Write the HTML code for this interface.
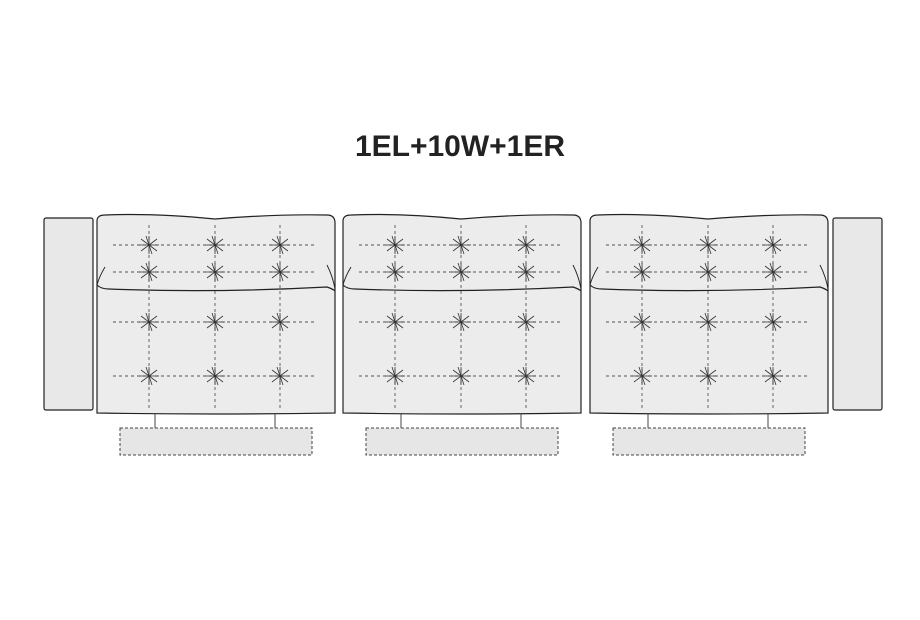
<!DOCTYPE html>
<html><head><style>body{margin:0;background:#fff}svg{display:block}</style></head><body>
<svg width="920" height="620" viewBox="0 0 920 620" xmlns="http://www.w3.org/2000/svg">
<defs>
<g id="t" stroke="#333" stroke-width="0.8" fill="none">
<line x1="-8" y1="-6" x2="8" y2="6"/><line x1="-8" y1="6" x2="8" y2="-6"/><line x1="-3" y1="-9" x2="3" y2="9"/><line x1="-10" y1="0" x2="10" y2="0"/><line x1="0" y1="-9" x2="0" y2="9"/>
</g>
<g id="m">
<path d="M2,4 Q2,-2 10,-2 Q60,-4 120,2 Q180,-3 232,-2 Q240,-2 240,6 L240,196 Q120,198 2,196 Z" fill="#ececec" stroke="#222" stroke-width="1.2"/>
<path d="M2,68 Q6,72 14,72 Q120,76 232,70 Q238,72 240,74" fill="none" stroke="#222" stroke-width="1.2"/>
<path d="M10,50 Q4,60 2,68 M232,48 Q238,60 240,72" fill="none" stroke="#222" stroke-width="0.9"/>
<g stroke="#555" stroke-width="0.9" stroke-dasharray="3,3" fill="none">
<line x1="18" y1="28" x2="222" y2="28"/><line x1="18" y1="55" x2="222" y2="55"/>
<line x1="18" y1="105" x2="222" y2="105"/><line x1="18" y1="159" x2="222" y2="159"/>
<line x1="54" y1="8" x2="54" y2="193"/><line x1="120" y1="8" x2="120" y2="193"/><line x1="185" y1="8" x2="185" y2="193"/>
</g>
<use href="#t" x="54" y="28"/><use href="#t" x="120" y="28"/><use href="#t" x="185" y="28"/>
<use href="#t" x="54" y="55"/><use href="#t" x="120" y="55"/><use href="#t" x="185" y="55"/>
<use href="#t" x="54" y="105"/><use href="#t" x="120" y="105"/><use href="#t" x="185" y="105"/>
<use href="#t" x="54" y="159"/><use href="#t" x="120" y="159"/><use href="#t" x="185" y="159"/>
<line x1="60" y1="196" x2="60" y2="211" stroke="#444"/><line x1="180" y1="196" x2="180" y2="211" stroke="#444"/>
<rect x="25" y="211" width="192" height="27" fill="#e6e6e6" stroke="#444" stroke-dasharray="3,2"/>
</g>
</defs>
<text x="460" y="156" text-anchor="middle" font-family="Liberation Sans, sans-serif" font-weight="bold" font-size="30" fill="#222">1EL+10W+1ER</text>
<rect x="44" y="218" width="49" height="192" rx="2" fill="#e8e8e8" stroke="#222" stroke-width="1.2"/>
<rect x="833" y="218" width="49" height="192" rx="2" fill="#e8e8e8" stroke="#222" stroke-width="1.2"/>
<use href="#m" x="95" y="217"/>
<use href="#m" x="341" y="217"/>
<use href="#m" x="588" y="217"/>
</svg>
</body></html>
